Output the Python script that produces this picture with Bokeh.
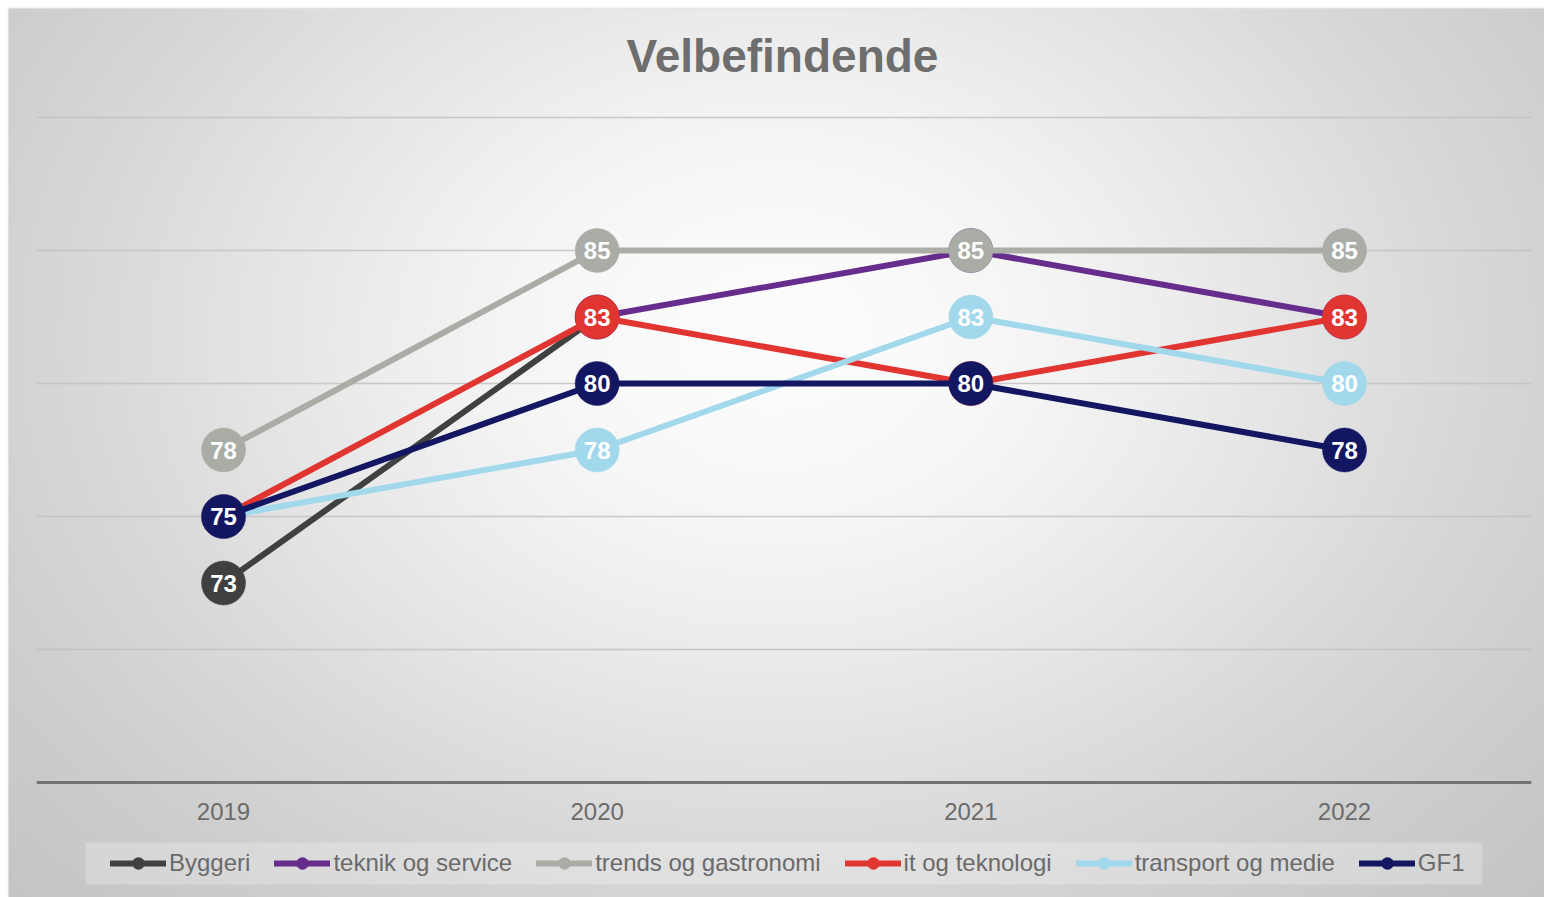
import math
import numpy as np
from bokeh.plotting import figure
from bokeh.models import Legend, LegendItem, BoxAnnotation
from bokeh.core.properties import value
from bokeh.embed import file_html
from bokeh.resources import INLINE

# ---------------- data ----------------
years = ["2019", "2020", "2021", "2022"]
x_pos = [2019, 2020, 2021, 2022]

series_names = ["Byggeri", "teknik og service", "trends og gastronomi",
                "it og teknologi", "transport og medie", "GF1"]
byggeri = [72.5, 82.5, float("nan"), float("nan")]
teknik = [float("nan"), 82.5, 85.0, 82.5]
trends = [77.5, 85.0, 85.0, 85.0]
it_tek = [75.0, 82.5, 80.0, 82.5]
transport = [75.0, 77.5, 82.5, 80.0]
gf1 = [75.0, 80.0, 80.0, 77.5]
series_values = [byggeri, teknik, trends, it_tek, transport, gf1]
series_colors = ["#404040", "#662d8c", "#a9ada6", "#e03531", "#a2d8ec", "#131762"]

grid_values = [70, 75, 80, 85, 90]
axis_value = 65
title_text = "Velbefindende"

# ---------------- layout ----------------
MARGIN = 8
W, H = 1536, 889                      # frame size (page minus white margin)
X_START, X_END = 2018.4246, 2022.5352
Y_START, Y_END = 60.677, 94.098
FONT = "Liberation Sans"


def dx(px):
    return X_START + px * (X_END - X_START) / W


def dy(py):
    return Y_END - py * (Y_END - Y_START) / H


p = figure(width=W + MARGIN, height=H + MARGIN, x_range=(X_START, X_END),
           y_range=(Y_START, Y_END), x_axis_type=None, y_axis_type=None,
           toolbar_location=None, output_backend="svg",
           min_border_left=MARGIN, min_border_top=MARGIN,
           min_border_right=0, min_border_bottom=0)
p.outline_line_color = "#e4e4e4"
p.outline_line_width = 1.5
p.background_fill_color = "#e0e0e0"
p.border_fill_color = "white"

# background gradient (radial-ish, light center, grey edges)
gw, gh = W // 4, H // 4
xs = (np.arange(gw) + 0.5) * W / gw
ys = (np.arange(gh) + 0.5) * H / gh
XX, YY = np.meshgrid(xs, ys)
r2 = ((XX - 767) / 768.0) ** 2 + ((YY - 330) / 580.0) ** 2
v = 252 - 64 * (1 - np.exp(-r2))
v = np.clip(v, 0, 255).astype(np.uint8)[::-1, :]
img = np.empty((gh, gw), dtype=np.uint32)
view = img.view(dtype=np.uint8).reshape((gh, gw, 4))
view[:, :, 0] = v
view[:, :, 1] = v
view[:, :, 2] = v
view[:, :, 3] = 255
p.image_rgba(image=[img], x=X_START, y=Y_START, dw=X_END - X_START, dh=Y_END - Y_START,
             level="image")

# gridlines spanning category bounds
cat_lo = x_pos[0] - 0.5
cat_hi = x_pos[-1] + 0.5
p.segment(x0=[cat_lo] * len(grid_values), x1=[cat_hi] * len(grid_values),
          y0=grid_values, y1=grid_values, line_color="#c2c2c2", line_width=1.5,
          line_alpha=0.85, level="underlay")
p.segment(x0=[cat_lo], x1=[cat_hi], y0=[axis_value], y1=[axis_value],
          line_color="#737373", line_width=3, level="underlay")

# year labels
p.text(x=x_pos, y=[dy(803)] * len(x_pos), text=years, text_align="center",
       text_baseline="middle", text_font=value(FONT), text_font_size="24px",
       text_color="#6b6b6b")

# title
p.text(x=[dx(774)], y=[dy(47)], text=[title_text], text_align="center",
       text_baseline="middle", text_font=value(FONT), text_font_size="46px",
       text_font_style="bold", text_color="#6e6e6e")

items = []
for name, vals, col in zip(series_names, series_values, series_colors):
    lr = p.line(x=x_pos, y=vals, line_color=col, line_width=6,
                line_join="round", line_cap="round")
    sr = p.scatter(x=x_pos, y=vals, size=44, fill_color=col, line_color=col,
                   line_width=0.5)
    lx = [x for x, y in zip(x_pos, vals) if not math.isnan(y)]
    ly = [y for y in vals if not math.isnan(y)]
    lt = [str(int(math.floor(y + 0.5))) for y in ly]
    p.text(x=lx, y=ly, text=lt, text_align="center", text_baseline="middle",
           text_font=value(FONT), text_font_size="24px", text_font_style="bold",
           text_color="white")
    items.append(LegendItem(label=name, renderers=[lr, sr]))

# legend background
p.add_layout(BoxAnnotation(left=dx(77), right=dx(1474), top=dy(834), bottom=dy(876),
                           fill_color="white", fill_alpha=0.24, line_alpha=0))

legend = Legend(items=items, orientation="horizontal", location=(102, 19),
                glyph_width=56, glyph_height=30, label_standoff=3, spacing=24,
                padding=0, margin=0, background_fill_alpha=0, border_line_alpha=0,
                label_text_font=FONT, label_text_font_size="24px",
                label_text_color="#6a6a6a")
p.add_layout(legend)

open("out.html", "w").write(file_html(p, INLINE))
